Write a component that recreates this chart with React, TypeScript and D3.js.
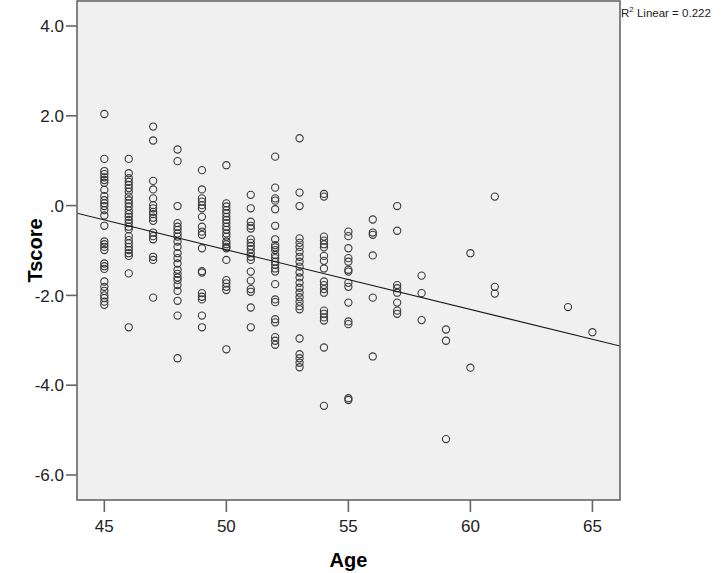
import React from "react";
import * as d3 from "d3";

// Age categories (x) and T-scores observed at each age (y)
const ages = [45, 46, 47, 48, 49, 50, 51, 52, 53, 54, 55, 56, 57, 58, 59, 60, 61, 64, 65];
const tscoresByAge: number[][] = [
  [2.04, 1.04, 0.77, 0.7, 0.63, 0.57, 0.51, 0.35, 0.21, 0.12, 0.05, -0.01, -0.1, -0.22, -0.45, -0.8, -0.86, -0.92, -0.99, -1.29, -1.35, -1.41, -1.69, -1.81, -1.9, -2.0, -2.06, -2.14, -2.21],
  [1.04, 0.72, 0.61, 0.53, 0.46, 0.39, 0.31, 0.2, 0.12, 0.05, -0.02, -0.11, -0.19, -0.25, -0.32, -0.39, -0.47, -0.53, -0.68, -0.77, -0.84, -0.92, -0.99, -1.06, -1.12, -1.51, -2.71],
  [1.76, 1.45, 0.55, 0.36, 0.16, 0.01, -0.06, -0.14, -0.19, -0.27, -0.34, -0.6, -0.68, -0.75, -1.14, -1.21, -2.05],
  [1.25, 0.99, -0.01, -0.39, -0.47, -0.54, -0.62, -0.69, -0.8, -0.92, -1.06, -1.17, -1.29, -1.43, -1.52, -1.6, -1.66, -1.77, -1.9, -2.12, -2.45, -3.4],
  [0.79, 0.36, 0.16, 0.09, 0.01, -0.06, -0.25, -0.47, -0.58, -0.65, -0.95, -1.46, -1.49, -1.95, -2.03, -2.09, -2.45, -2.71],
  [0.9, 0.05, -0.02, -0.1, -0.17, -0.25, -0.32, -0.39, -0.47, -0.54, -0.62, -0.69, -0.8, -0.86, -0.92, -0.95, -1.21, -1.66, -1.73, -1.81, -1.88, -3.2],
  [0.24, -0.06, -0.36, -0.45, -0.51, -0.75, -0.83, -0.9, -0.97, -1.06, -1.14, -1.21, -1.47, -1.67, -1.86, -1.92, -2.27, -2.71],
  [1.09, 0.4, 0.16, 0.11, -0.08, -0.45, -0.75, -0.88, -0.93, -0.99, -1.1, -1.17, -1.25, -1.32, -1.4, -1.47, -1.75, -2.09, -2.15, -2.53, -2.6, -2.93, -3.01, -3.1],
  [1.5, 0.29, -0.01, -0.73, -0.83, -0.92, -1.03, -1.14, -1.25, -1.36, -1.49, -1.6, -1.72, -1.83, -1.94, -2.04, -2.14, -2.24, -2.31, -2.96, -3.31, -3.4, -3.5, -3.6],
  [0.26, 0.2, -0.69, -0.78, -0.86, -0.93, -1.12, -1.23, -1.4, -1.69, -1.77, -1.86, -1.94, -2.34, -2.41, -2.49, -2.56, -3.16, -4.46],
  [-0.58, -0.68, -0.95, -1.17, -1.25, -1.43, -1.47, -1.72, -1.81, -2.16, -2.58, -2.64, -4.29, -4.33],
  [-0.31, -0.6, -0.65, -1.11, -2.05, -3.36],
  [-0.01, -0.56, -1.77, -1.84, -1.94, -2.16, -2.34, -2.41],
  [-1.56, -1.95, -2.55],
  [-2.76, -3.01, -5.2],
  [-1.06, -3.61],
  [0.2, -1.81, -1.96],
  [-2.26],
  [-2.82],
];

const xTicks = [45, 50, 55, 60, 65];
const yTicks = [4, 2, 0, -2, -4, -6];
const yTickLabels = ["4.0", "2.0", ".0", "-2.0", "-4.0", "-6.0"];

// Fitted linear regression
const fitIntercept = 5.661;
const fitSlope = -0.1329;
const r2Label = "0.222";

const xDomain = [43.88, 66.13];
const yDomain = [-6.557, 4.557];

export default function App() {
  const W = 721;
  const H = 573;
  const left = 77, right = 620, top = 1, bottom = 500;
  const x = d3.scaleLinear().domain(xDomain).range([left, right]);
  const y = d3.scaleLinear().domain(yDomain).range([bottom, top]);

  const points = ages.flatMap((a, i) => tscoresByAge[i].map((v) => ({ a, v })));
  const lineGen = d3
    .line<number>()
    .x((d) => x(d))
    .y((d) => y(fitIntercept + fitSlope * d));

  const font = "'Liberation Sans', Arial, sans-serif";
  const axisColor = "#666";
  const textColor = "#222";

  return (
    <svg
      width={W}
      height={H}
      style={{ position: "absolute", left: 0, top: 0, background: "#fff" }}
      fontFamily={font}
    >
      <defs>
        <clipPath id="plotclip">
          <rect x={left} y={top} width={right - left} height={bottom - top} />
        </clipPath>
      </defs>
      <rect x={left} y={top} width={right - left} height={bottom - top} fill="#f0f0f0" />
      <g clipPath="url(#plotclip)">
        {points.map((p, i) => (
          <circle
            key={i}
            cx={x(p.a)}
            cy={y(p.v)}
            r={3.6}
            fill="none"
            stroke="#3a3a3a"
            strokeWidth={1.1}
          />
        ))}
        <path d={lineGen(xDomain) || ""} stroke="#1a1a1a" strokeWidth={1.1} fill="none" />
      </g>
      <rect
        x={left}
        y={top}
        width={right - left}
        height={bottom - top}
        fill="none"
        stroke={axisColor}
        strokeWidth={1.6}
      />
      {/* Y axis ticks */}
      {yTicks.map((t, i) => (
        <g key={"y" + t}>
          <line x1={left - 11} x2={left} y1={y(t)} y2={y(t)} stroke={axisColor} strokeWidth={1.6} />
          <text
            x={left - 13}
            y={y(t)}
            dy="0.36em"
            textAnchor="end"
            fontSize={17}
            fill={textColor}
          >
            {yTickLabels[i]}
          </text>
        </g>
      ))}
      {/* X axis ticks */}
      {xTicks.map((t) => (
        <g key={"x" + t}>
          <line x1={x(t)} x2={x(t)} y1={bottom} y2={bottom + 12} stroke={axisColor} strokeWidth={1.6} />
          <text x={x(t)} y={bottom + 32} textAnchor="middle" fontSize={17} fill={textColor}>
            {t}
          </text>
        </g>
      ))}
      {/* Axis titles */}
      <text
        x={(left + right) / 2}
        y={567}
        textAnchor="middle"
        fontSize={20}
        fontWeight="bold"
        fill="#000"
      >
        Age
      </text>
      <text
        transform={`translate(${42},${(top + bottom) / 2}) rotate(-90)`}
        textAnchor="middle"
        fontSize={20}
        fontWeight="bold"
        fill="#000"
      >
        Tscore
      </text>
      {/* R² label */}
      <text x={right + 1} y={17} fontSize={11.5} fill={textColor}>
        R<tspan dy={-5} fontSize={8}>2</tspan>
        <tspan dy={5}> Linear = {r2Label}</tspan>
      </text>
    </svg>
  );
}
